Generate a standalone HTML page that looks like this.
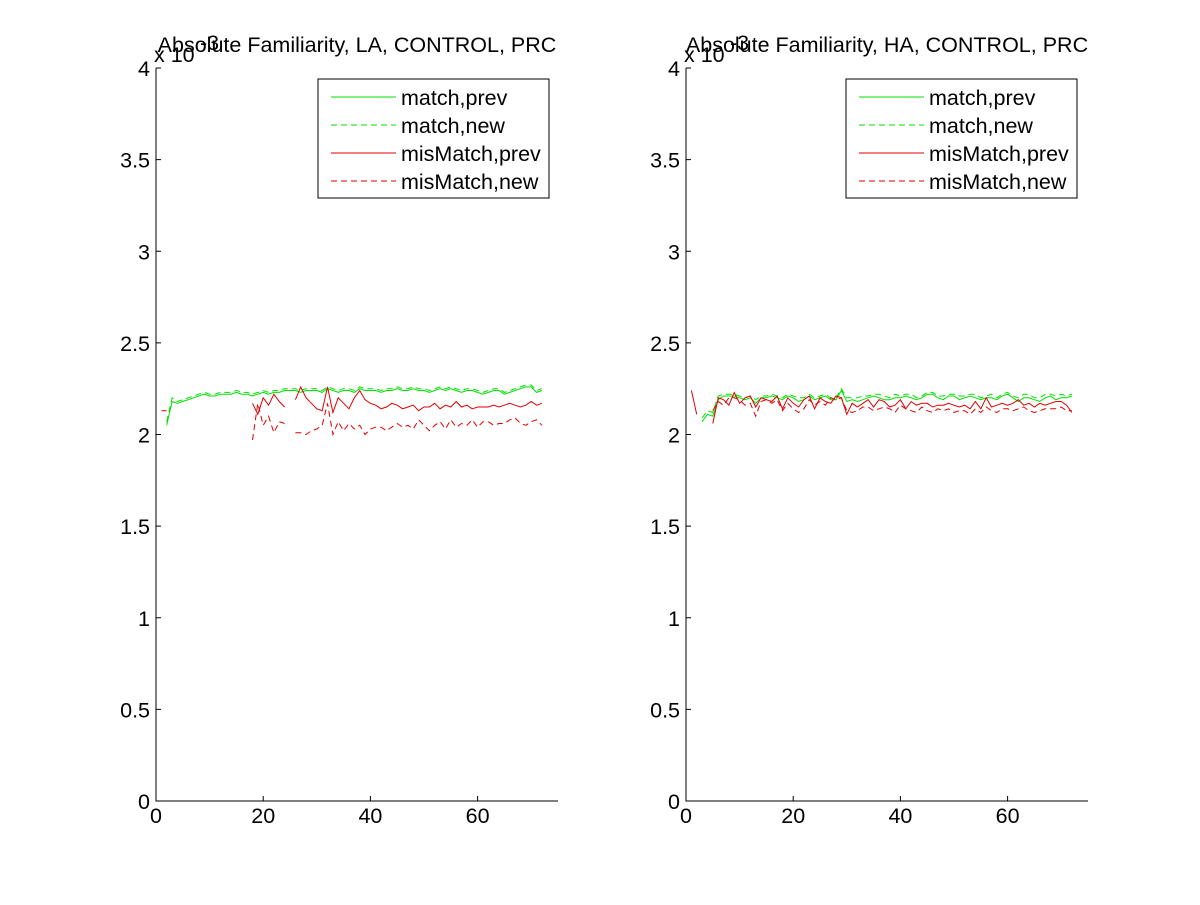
<!DOCTYPE html>
<html><head><meta charset="utf-8"><style>
body{margin:0;background:#fff;}
svg text{font-family:"Liberation Sans",sans-serif;font-size:21.5px;fill:#000;}
</style></head><body>
<svg id="chart" width="1200" height="900"></svg>
<script>
const xTicks=[0,20,40,60];
const yTicks=[0,0.5,1,1.5,2,2.5,3,3.5,4];
const yTickLabels=["0","0.5","1","1.5","2","2.5","3","3.5","4"];
const seriesNames=["match,prev","match,new","misMatch,prev","misMatch,new"];
const N=null;
// left panel (LA), values x 1e-3, x = 1..72
const laMatchPrev=[N,2.05,2.18,2.17,2.18,2.19,2.2,2.21,2.22,2.21,2.21,2.22,2.22,2.22,2.23,2.22,2.22,2.21,2.22,2.23,2.22,2.23,2.23,2.24,2.24,2.24,2.23,2.24,2.24,2.24,2.23,2.25,2.24,2.23,2.24,2.24,2.23,2.25,2.24,2.24,2.24,2.23,2.24,2.24,2.25,2.24,2.24,2.25,2.24,2.24,2.23,2.24,2.25,2.24,2.25,2.24,2.23,2.24,2.24,2.23,2.22,2.23,2.24,2.24,2.22,2.23,2.24,2.25,2.26,2.26,2.23,2.24];
const laMatchNew=[N,2.07,2.2,2.18,2.19,2.2,2.21,2.22,2.23,2.22,2.22,2.23,2.23,2.23,2.24,2.23,2.23,2.22,2.23,2.24,2.23,2.24,2.24,2.25,2.25,2.25,2.24,2.25,2.25,2.25,2.24,2.26,2.25,2.24,2.25,2.25,2.24,2.26,2.25,2.25,2.25,2.24,2.25,2.25,2.26,2.25,2.25,2.26,2.25,2.25,2.24,2.25,2.26,2.25,2.26,2.25,2.24,2.25,2.25,2.24,2.23,2.24,2.25,2.25,2.23,2.24,2.25,2.26,2.27,2.27,2.24,2.25];
const laMisPrev=[2.13,2.13,N,N,N,N,2.14,N,N,N,N,N,N,N,N,N,N,2.17,2.11,2.2,2.16,2.22,2.18,2.15,N,2.19,2.26,2.2,2.17,2.14,2.13,2.26,2.12,2.2,2.17,2.14,2.2,2.24,2.19,2.17,2.16,2.14,2.15,2.17,2.16,2.14,2.15,2.16,2.13,2.15,2.15,2.17,2.14,2.16,2.15,2.18,2.15,2.16,2.14,2.15,2.15,2.15,2.16,2.15,2.16,2.17,2.16,2.15,2.16,2.18,2.16,2.17];
const laMisNew=[N,2.0,N,N,N,N,1.99,N,N,N,N,N,N,N,N,N,N,1.97,2.17,2.05,2.1,2.01,2.07,2.06,N,2.01,2.01,2.0,2.02,2.03,2.05,2.17,2.0,2.07,2.02,2.06,2.03,2.05,2.0,2.03,2.04,2.04,2.02,2.04,2.06,2.04,2.05,2.03,2.08,2.05,2.02,2.05,2.07,2.03,2.08,2.04,2.06,2.05,2.08,2.04,2.07,2.07,2.05,2.06,2.06,2.08,2.09,2.06,2.05,2.07,2.08,2.05];
// right panel (HA)
const haMatchPrev=[N,N,2.07,2.11,2.1,2.19,2.21,2.21,2.21,2.2,2.19,2.2,2.17,2.2,2.2,2.21,2.2,2.19,2.21,2.2,2.18,2.19,2.21,2.19,2.2,2.21,2.19,2.19,2.24,2.18,2.19,2.18,2.19,2.2,2.21,2.2,2.19,2.19,2.2,2.2,2.21,2.2,2.19,2.2,2.22,2.22,2.2,2.19,2.21,2.21,2.19,2.2,2.21,2.2,2.19,2.2,2.2,2.19,2.21,2.22,2.2,2.18,2.2,2.2,2.19,2.18,2.2,2.21,2.19,2.2,2.2,2.21];
const haMatchNew=[N,N,2.09,2.13,2.12,2.21,2.22,2.22,2.22,2.21,2.2,2.21,2.19,2.21,2.21,2.22,2.21,2.2,2.22,2.21,2.2,2.2,2.22,2.2,2.21,2.22,2.2,2.2,2.25,2.2,2.2,2.2,2.21,2.21,2.22,2.22,2.21,2.2,2.22,2.21,2.22,2.22,2.2,2.21,2.23,2.23,2.21,2.21,2.22,2.22,2.21,2.21,2.22,2.22,2.2,2.21,2.22,2.2,2.22,2.23,2.21,2.2,2.22,2.22,2.2,2.2,2.22,2.22,2.21,2.22,2.21,2.22];
const haMisPrev=[2.24,2.11,N,N,2.06,2.2,2.19,2.16,2.23,2.17,2.2,2.21,2.15,2.2,2.19,2.18,2.21,2.14,2.2,2.17,2.15,2.19,2.21,2.14,2.2,2.18,2.17,2.21,2.2,2.11,2.17,2.15,2.17,2.19,2.15,2.19,2.18,2.15,2.16,2.19,2.14,2.18,2.16,2.17,2.17,2.15,2.16,2.16,2.17,2.16,2.15,2.16,2.14,2.18,2.14,2.2,2.15,2.16,2.17,2.16,2.17,2.19,2.16,2.17,2.15,2.17,2.16,2.17,2.18,2.18,2.16,2.12];
const haMisNew=[N,2.1,N,N,2.13,2.18,2.16,2.2,2.2,2.19,2.16,2.17,2.1,2.18,2.19,2.17,2.19,2.13,2.17,2.14,2.12,2.14,2.19,2.16,2.18,2.16,2.2,2.19,2.2,2.13,2.12,2.13,2.15,2.15,2.13,2.14,2.15,2.14,2.12,2.16,2.14,2.13,2.12,2.15,2.13,2.12,2.14,2.13,2.14,2.12,2.13,2.13,2.11,2.14,2.12,2.15,2.13,2.12,2.14,2.14,2.13,2.14,2.15,2.13,2.12,2.13,2.14,2.14,2.14,2.15,2.13,2.13];

const svg=document.getElementById('chart');
const NS='http://www.w3.org/2000/svg';
function mk(tag,attrs,parent){const e=document.createElementNS(NS,tag);for(const k in attrs)e.setAttribute(k,attrs[k]);(parent||svg).appendChild(e);return e;}
const colors=["#00e000","#00e000","#e00000","#e00000"];
const dashes=["","6,4","","6,4"];
function panel(x0,title,series,legX,key){
  const g=mk('g',{});
  
  
  const W=402,top=68,bot=801;
  const xs=v=>x0+v/75*W, ys=v=>bot-v/4*(bot-top);
  const ax=mk('path',{d:`M${x0} ${top}V${bot}H${x0+W}`,stroke:'#000',fill:'none','stroke-width':1},g);
  
  xTicks.forEach(t=>{const x=xs(t);mk('line',{x1:x,x2:x,y1:bot,y2:bot-5,stroke:'#000'},g);
    const tx=mk('text',{x:x,y:bot+22,'text-anchor':'middle'},g);tx.textContent=t;
    });
  yTicks.forEach((t,i)=>{const y=ys(t);mk('line',{x1:x0,x2:x0+5,y1:y,y2:y,stroke:'#000'},g);
    const tx=mk('text',{x:x0-6,y:y+8,'text-anchor':'end'},g);tx.textContent=yTickLabels[i];
    });
  const ex=mk('text',{x:x0-2,y:62},g);ex.textContent='x 10';
  
  const ex2=mk('text',{x:x0+44,y:50,'font-size':'16'},g);ex2.textContent='-3';
  
  const tt=mk('text',{x:x0+W/2,y:52,'text-anchor':'middle'},g);tt.textContent=title;
  
  series.forEach((arr,si)=>{
    let d='',pen=false;
    arr.forEach((v,i)=>{if(v===null){pen=false;return;}d+=(pen?'L':'M')+xs(i+1).toFixed(1)+' '+ys(v).toFixed(1);pen=true;});
    const p=mk('path',{d:d,stroke:colors[si],fill:'none','stroke-width':1,'stroke-dasharray':dashes[si]},g);
    
    
  });
  const lg=mk('g',{},g);
  
  mk('rect',{x:legX,y:79,width:231,height:119,fill:'#fff',stroke:'#000'},lg);
  seriesNames.forEach((n,i)=>{const y=97+i*28;
    mk('line',{x1:legX+13,x2:legX+78,y1:y,y2:y,stroke:colors[i],'stroke-dasharray':dashes[i]},lg);
    const t=mk('text',{x:legX+83,y:y+8},lg);t.textContent=n;
    });
}
panel(156,'Absolute Familiarity, LA, CONTROL, PRC',[laMatchPrev,laMatchNew,laMisPrev,laMisNew],318,'la');
panel(686,'Absolute Familiarity, HA, CONTROL, PRC',[haMatchPrev,haMatchNew,haMisPrev,haMisNew],846,'ha');
</script>
</body></html>
